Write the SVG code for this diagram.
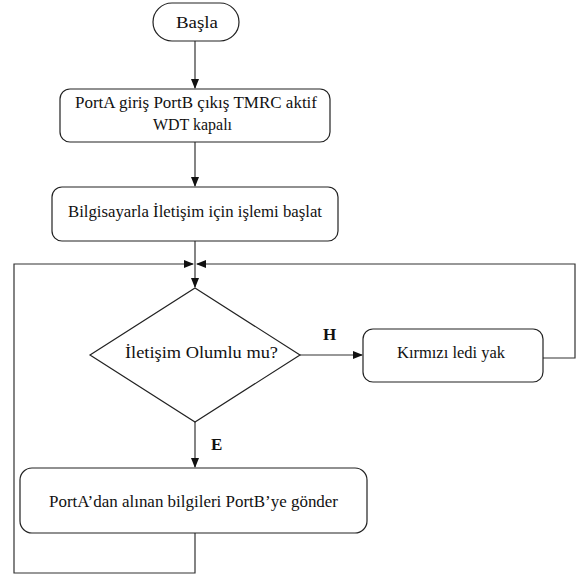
<svg xmlns="http://www.w3.org/2000/svg" width="578" height="577" viewBox="0 0 578 577">
<style>
.box{fill:#fff;stroke:#222;stroke-width:1.2}
.ln{fill:none;stroke:#333;stroke-width:1.2}
text{font-family:'Liberation Serif','Times New Roman',Times,'DejaVu Serif',serif}
.t{font-size:16px;fill:#111}
.b{font-size:17px;font-weight:bold;fill:#111}
</style>
<defs>
<marker id="ah" markerWidth="10" markerHeight="8" refX="9" refY="4" orient="auto" markerUnits="userSpaceOnUse">
<path d="M0,0 L10,4 L0,8 Z" fill="#111"/>
</marker>
</defs>
<g id="connectors">
<path class="ln" d="M195,41 V88" marker-end="url(#ah)"/>
<path class="ln" d="M195,142 V186" marker-end="url(#ah)"/>
<path class="ln" d="M195,241 V287" marker-end="url(#ah)"/>
<path class="ln" d="M300,355 H362" marker-end="url(#ah)"/>
<path class="ln" d="M195,422 V467" marker-end="url(#ah)"/>
<path class="ln" d="M543,358 H575 V264 H197" marker-end="url(#ah)"/>
<path class="ln" d="M195,533 V573 H14 V264 H193" marker-end="url(#ah)"/>
</g>
<g id="start">
<rect class="box" x="153" y="3" width="86" height="38" rx="19"/>
<text class="t" x="176" y="28" textLength="42" lengthAdjust="spacingAndGlyphs">Başla</text>
</g>
<g id="init">
<rect class="box" x="60" y="89" width="270" height="53" rx="10"/>
<text class="t" x="75" y="108" textLength="242" lengthAdjust="spacingAndGlyphs">PortA giriş PortB çıkış TMRC aktif</text>
<text class="t" x="153" y="130" textLength="79" lengthAdjust="spacingAndGlyphs">WDT kapalı</text>
</g>
<g id="comm">
<rect class="box" x="52" y="187" width="286" height="54" rx="10"/>
<text class="t" x="68" y="217" textLength="254" lengthAdjust="spacingAndGlyphs">Bilgisayarla İletişim için işlemi başlat</text>
</g>
<g id="decision">
<path class="box" d="M195,288 L300,355 L195,422 L90,355 Z"/>
<text class="t" x="125" y="358" textLength="153" lengthAdjust="spacingAndGlyphs">İletişim Olumlu mu?</text>
</g>
<g id="red">
<rect class="box" x="363" y="329" width="180" height="53" rx="10"/>
<text class="t" x="397" y="358" textLength="108" lengthAdjust="spacingAndGlyphs">Kırmızı ledi yak</text>
</g>
<g id="send">
<rect class="box" x="20" y="468" width="347" height="65" rx="12"/>
<text class="t" x="49" y="507" textLength="289" lengthAdjust="spacingAndGlyphs">PortA’dan alınan bilgileri PortB’ye gönder</text>
</g>
<g id="labels">
<text class="b" x="323" y="340">H</text>
<text class="b" x="211" y="450">E</text>
</g>
</svg>
